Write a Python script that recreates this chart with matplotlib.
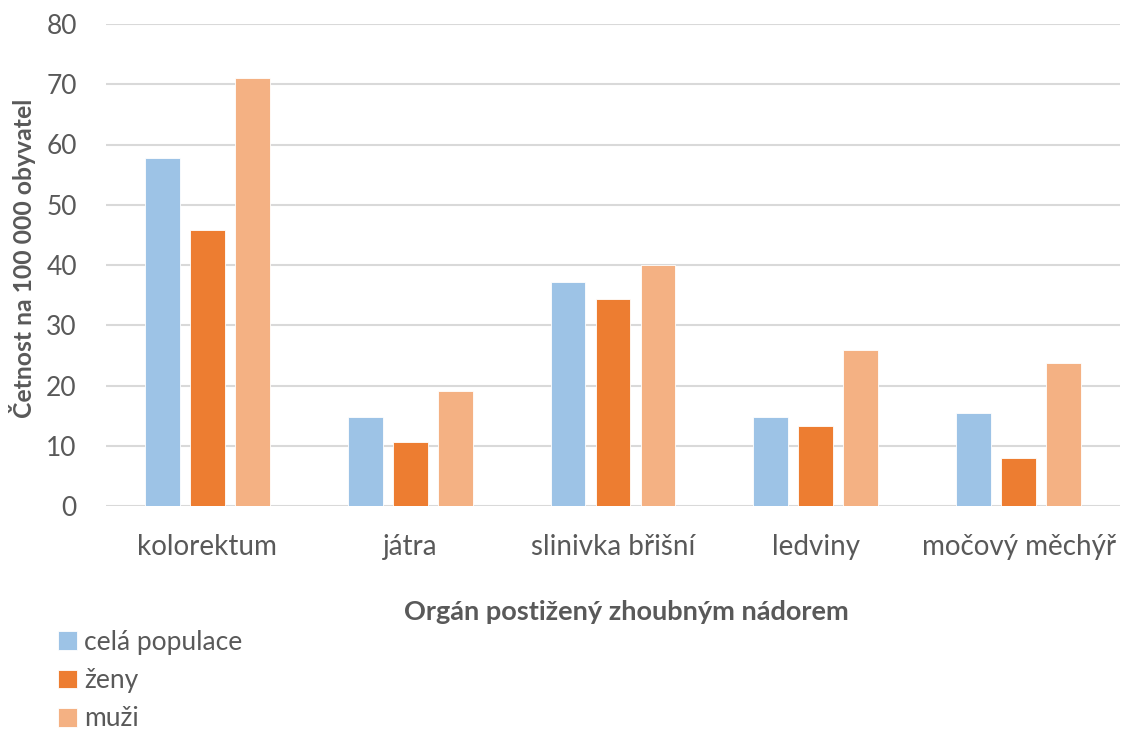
import numpy as np
import matplotlib
matplotlib.use("Agg")
import matplotlib.pyplot as plt

plt.rcParams["font.family"] = ["Lato", "DejaVu Sans"]

organs = ["kolorektum", "játra", "slinivka břišní", "ledviny", "močový měchýř"]
series_names = ["celá populace", "ženy", "muži"]
cela_populace = [57.8, 14.7, 37.1, 14.7, 15.5]
zeny = [45.8, 10.7, 34.4, 13.3, 7.9]
muzi = [71.1, 19.1, 40.0, 25.9, 23.8]
yticks = [0, 10, 20, 30, 40, 50, 60, 70, 80]

colors = ["#9DC3E6", "#ED7D31", "#F4B183"]
text_gray = "#595959"
grid_gray = "#D9D9D9"

fig = plt.figure(figsize=(11.22, 7.31), dpi=100)
ax = fig.add_axes([106 / 1122, 1 - 506 / 731, 1014 / 1122, 482 / 731])

x = np.arange(len(organs))
width = 0.172
step = 0.222
for i, (vals, name) in enumerate(zip([cela_populace, zeny, muzi], series_names)):
    ax.bar(x + (i - 1) * step, vals, width, color=colors[i], label=name,
           edgecolor="white", linewidth=0.6, zorder=3)

ax.set_xlim(-0.5, len(organs) - 0.5)
ax.set_ylim(0, 80)
ax.set_yticks(yticks)
ax.set_yticklabels([str(t) for t in yticks], fontsize=19, color=text_gray)
ax.set_xticks(x)
ax.set_xticklabels(organs, fontsize=20, color=text_gray)
ax.tick_params(axis="both", length=0)
ax.tick_params(axis="y", pad=21)
ax.tick_params(axis="x", pad=20)
ax.grid(axis="y", color=grid_gray, linewidth=1.5, zorder=0)
for s in ax.spines.values():
    s.set_visible(False)

fig.text(626 / 1122, 1 - 612 / 731, "Orgán postižený zhoubným nádorem",
         ha="center", va="center", fontsize=19.5, fontweight="bold", color=text_gray)
fig.text(23 / 1122, 1 - 258 / 731, "Četnost na 100 000 obyvatel",
         ha="center", va="center", rotation=90, fontsize=17.8, fontweight="bold", color=text_gray)

handles, labels = ax.get_legend_handles_labels()
fig.legend(handles, labels, loc="upper left", bbox_to_anchor=(58 / 1122, 1 - 630 / 731),
           frameon=False, fontsize=19, handlelength=0.72, handleheight=0.72,
           handletextpad=0.27, labelspacing=0.5, labelcolor=text_gray,
           borderpad=0, borderaxespad=0)

fig.savefig("out.png", dpi=100)
